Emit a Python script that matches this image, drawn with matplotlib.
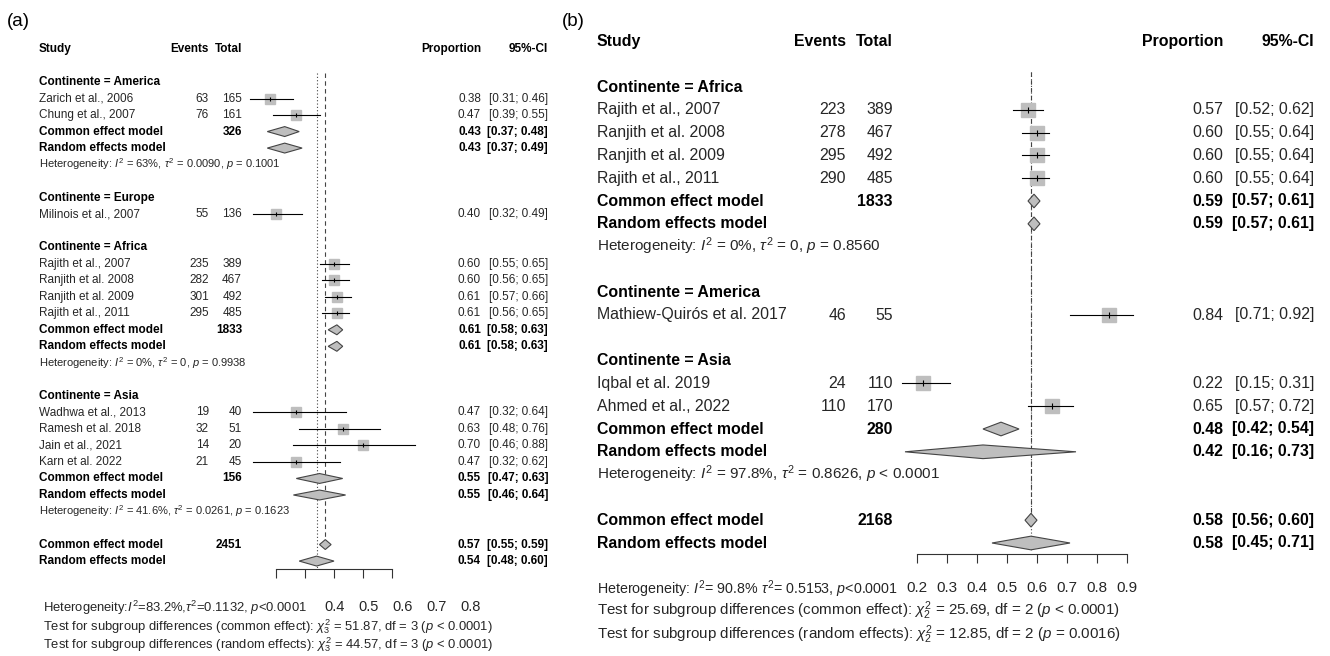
import matplotlib
matplotlib.use('Agg')
import matplotlib.pyplot as plt
from matplotlib import font_manager
from matplotlib.transforms import blended_transform_factory

W, H = 1330, 656

# ---------------- panel (a) data ----------------
a_groups = ['America', 'Europe', 'Africa', 'Asia']
a_study = ['Zarich et al., 2006', 'Chung et al., 2007',
           'Milinois et al., 2007',
           'Rajith et al., 2007', 'Ranjith et al. 2008', 'Ranjith et al. 2009', 'Rajith et al., 2011',
           'Wadhwa et al., 2013', 'Ramesh et al. 2018', 'Jain et al., 2021', 'Karn et al. 2022']
a_group = ['America', 'America', 'Europe', 'Africa', 'Africa', 'Africa', 'Africa',
           'Asia', 'Asia', 'Asia', 'Asia']
a_events = [63, 76, 55, 235, 282, 301, 295, 19, 32, 14, 21]
a_total = [165, 161, 136, 389, 467, 492, 485, 40, 51, 20, 45]
a_prop = [0.38, 0.47, 0.40, 0.60, 0.60, 0.61, 0.61, 0.47, 0.63, 0.70, 0.47]
a_lower = [0.31, 0.39, 0.32, 0.55, 0.56, 0.57, 0.56, 0.32, 0.48, 0.46, 0.32]
a_upper = [0.46, 0.55, 0.49, 0.65, 0.65, 0.66, 0.65, 0.64, 0.76, 0.88, 0.62]
a_sub = ['America', 'Africa', 'Asia']
a_sub_n = [326, 1833, 156]
a_sub_common = [(0.43, 0.37, 0.48), (0.61, 0.58, 0.63), (0.55, 0.47, 0.63)]
a_sub_random = [(0.43, 0.37, 0.49), (0.61, 0.58, 0.63), (0.55, 0.46, 0.64)]
a_sub_i2 = ['63%', '0%', '41.6%']
a_sub_tau2 = ['0.0090', '0', '0.0261']
a_sub_p = ['= 0.1001', '= 0.9938', '= 0.1623']
a_all_n = 2451
a_all_common = (0.57, 0.55, 0.59)
a_all_random = (0.54, 0.48, 0.60)
a_ticks = [0.4, 0.5, 0.6, 0.7, 0.8]
a_bottom = [r'Heterogeneity:$I^2$=83.2%,$\tau^2$=0.1132, $p$<0.0001',
            r'Test for subgroup differences (common effect): $\chi^2_3$ = 51.87, df = 3 ($p$ < 0.0001)',
            r'Test for subgroup differences (random effects): $\chi^2_3$ = 44.57, df = 3 ($p$ < 0.0001)']

# ---------------- panel (b) data ----------------
b_groups = ['Africa', 'America', 'Asia']
b_study = ['Rajith et al., 2007', 'Ranjith et al. 2008', 'Ranjith et al. 2009', 'Rajith et al., 2011',
           'Mathiew-Quirós et al. 2017',
           'Iqbal et al. 2019', 'Ahmed et al., 2022']
b_group = ['Africa', 'Africa', 'Africa', 'Africa', 'America', 'Asia', 'Asia']
b_events = [223, 278, 295, 290, 46, 24, 110]
b_total = [389, 467, 492, 485, 55, 110, 170]
b_prop = [0.57, 0.60, 0.60, 0.60, 0.84, 0.22, 0.65]
b_lower = [0.52, 0.55, 0.55, 0.55, 0.71, 0.15, 0.57]
b_upper = [0.62, 0.64, 0.64, 0.64, 0.92, 0.31, 0.72]
b_sub = ['Africa', 'Asia']
b_sub_n = [1833, 280]
b_sub_common = [(0.59, 0.57, 0.61), (0.48, 0.42, 0.54)]
b_sub_random = [(0.59, 0.57, 0.61), (0.42, 0.16, 0.73)]
b_sub_i2 = ['0%', '97.8%']
b_sub_tau2 = ['0', '0.8626']
b_sub_p = ['= 0.8560', '< 0.0001']
b_all_n = 2168
b_all_common = (0.58, 0.56, 0.60)
b_all_random = (0.58, 0.45, 0.71)
b_ticks = [0.2, 0.3, 0.4, 0.5, 0.6, 0.7, 0.8, 0.9]
b_bottom = [r'Heterogeneity: $I^2$= 90.8% $\tau^2$= 0.5153, $p$<0.0001',
            r'Test for subgroup differences (common effect): $\chi^2_2$ = 25.69, df = 2 ($p$ < 0.0001)',
            r'Test for subgroup differences (random effects): $\chi^2_2$ = 12.85, df = 2 ($p$ = 0.0016)']


def has_font(name):
    try:
        font_manager.findfont(font_manager.FontProperties(family=name), fallback_to_default=False)
        return True
    except ValueError:
        return False


NARROW = 'Liberation Sans Narrow' if has_font('Liberation Sans Narrow') else 'Liberation Sans'
K = 1.0 if NARROW == 'Liberation Sans Narrow' else 0.86
REG = 'Liberation Sans'

plt.rcParams['mathtext.fontset'] = 'custom'
plt.rcParams['mathtext.rm'] = NARROW
plt.rcParams['mathtext.it'] = NARROW + ':italic'
plt.rcParams['mathtext.bf'] = NARROW + ':bold'

GREY = '#bebebe'
TXT = '#262626'

fig = plt.figure(figsize=(W / 100, H / 100), dpi=100)


def draw_panel(lay, groups, study, group, events, total, prop, lower, upper,
               sub, sub_n, sub_common, sub_random, i2, tau2, p_het,
               all_n, all_common, all_random, ticks):
    y0, dy = lay['y0'], lay['dy']

    def row_of(px):
        return (px - y0) / dy

    x0, x1 = lay['ax_px']
    ax = fig.add_axes([x0 / W, 1 - lay['axis_px'] / H, (x1 - x0) / W,
                       (lay['axis_px'] - lay['top_px']) / H])
    ax.set_xlim(*lay['xlim'])
    ax.set_ylim(row_of(lay['axis_px']), row_of(lay['top_px']))
    ax.patch.set_visible(False)
    for s in ['top', 'left', 'right']:
        ax.spines[s].set_visible(False)
    ax.spines['bottom'].set_bounds(ticks[0], ticks[-1])
    ax.spines['bottom'].set_linewidth(0.8)
    ax.spines['bottom'].set_color('#333333')
    ax.set_yticks([])
    ax.set_xticks(ticks)
    ax.tick_params(axis='x', direction='out', length=6.5, width=0.8, color='#333333')

    tr = blended_transform_factory(fig.transFigure, ax.transData)
    fs, fsh = lay['fs'] * K, lay['fs_het'] * K

    def put(xpx, r, s, ha='left', bold=False, size=None):
        ax.text(xpx / W, r, s, transform=tr, ha=ha, va='center',
                fontsize=size or fs, family=NARROW,
                fontweight='bold' if bold else 'normal',
                color='black' if bold else TXT, clip_on=False)

    def ci_text(r, est, lo, hi, bold):
        put(lay['x_prop'], r, f'{est:.2f}', ha='right', bold=bold)
        put(lay['x_ci'], r, f'[{lo:.2f}; {hi:.2f}]', ha='right', bold=bold)

    def diamond(r, est, lo, hi):
        h = lay['dh']
        ax.fill([lo, est, hi, est], [r, r - h, r, r + h], facecolor=GREY,
                edgecolor='#444444', lw=0.8, zorder=3, clip_on=False)

    # header
    hr = -2
    put(lay['x_study'], hr, 'Study', bold=True)
    put(lay['x_events'], hr, 'Events', ha='right', bold=True)
    put(lay['x_total'], hr, 'Total', ha='right', bold=True)
    put(lay['x_prop'], hr, 'Proportion', ha='right', bold=True)
    put(lay['x_ci'], hr, '95%-CI', ha='right', bold=True)

    r = 0
    for g in groups:
        put(lay['x_study'], r, f'Continente = {g}', bold=True)
        r += 1
        for i in range(len(study)):
            if group[i] != g:
                continue
            put(lay['x_study'], r, study[i])
            put(lay['x_events'], r, str(events[i]), ha='right')
            put(lay['x_total'], r, str(total[i]), ha='right')
            ci_text(r, prop[i], lower[i], upper[i], False)
            ax.plot([prop[i]], [r], marker='s', ms=lay['sq'], color=GREY,
                    mec=GREY, zorder=2, clip_on=False)
            ax.plot([lower[i], upper[i]], [r, r], color='black', lw=0.8,
                    zorder=3, clip_on=False)
            ax.plot([prop[i]], [r], marker='|', ms=lay['tick'], color='black',
                    mew=0.8, zorder=4, clip_on=False)
            r += 1
        if g in sub:
            k = sub.index(g)
            put(lay['x_study'], r, 'Common effect model', bold=True)
            put(lay['x_total'], r, str(sub_n[k]), ha='right', bold=True)
            ci_text(r, *sub_common[k], True)
            diamond(r, *sub_common[k])
            put(lay['x_study'], r + 1, 'Random effects model', bold=True)
            ci_text(r + 1, *sub_random[k], True)
            diamond(r + 1, *sub_random[k])
            het = (r'Heterogeneity: $I^2$ = ' + i2[k] + r', $\tau^2$ = ' + tau2[k]
                   + r', $p$ ' + p_het[k])
            put(lay['x_study'], r + 2, het, size=fsh)
            r += 3
        r += 1

    put(lay['x_study'], r, 'Common effect model', bold=True)
    put(lay['x_total'], r, str(all_n), ha='right', bold=True)
    ci_text(r, *all_common, True)
    diamond(r, *all_common)
    put(lay['x_study'], r + 1, 'Random effects model', bold=True)
    ci_text(r + 1, *all_random, True)
    diamond(r + 1, *all_random)

    top = lay['line_top']
    ax.plot([all_common[0]] * 2, [top, r - 0.15], ls=(0, (4, 3)), color='#444444',
            lw=0.8, zorder=1, clip_on=False)
    ax.plot([all_random[0]] * 2, [top, r + 1.4], ls=(0, (1, 2)), color='#444444',
            lw=0.8, zorder=1, clip_on=False)
    return ax


LAY_A = dict(y0=82, dy=16.52, x_study=39, x_events=209, x_total=242, x_prop=481,
             x_ci=548, ax_px=(218, 421), xlim=(0.2, 0.9), axis_px=569, top_px=30,
             line_top=-0.55, fs=9.8, fs_het=9.3, sq=7.0, tick=3.0, dh=0.3)
LAY_B = dict(y0=87, dy=22.8, x_study=597, x_events=846, x_total=893, x_prop=1223,
             x_ci=1314, ax_px=(887, 1157), xlim=(0.1, 1.0), axis_px=554, top_px=30,
             line_top=-0.66, fs=13.3, fs_het=12.8, sq=10.5, tick=4.5, dh=0.3)

ax_a = draw_panel(LAY_A, a_groups, a_study, a_group, a_events, a_total, a_prop,
                  a_lower, a_upper, a_sub, a_sub_n, a_sub_common, a_sub_random,
                  a_sub_i2, a_sub_tau2, a_sub_p, a_all_n, a_all_common,
                  a_all_random, a_ticks)
ax_a.set_xticklabels([])

ax_b = draw_panel(LAY_B, b_groups, b_study, b_group, b_events, b_total, b_prop,
                  b_lower, b_upper, b_sub, b_sub_n, b_sub_common, b_sub_random,
                  b_sub_i2, b_sub_tau2, b_sub_p, b_all_n, b_all_common,
                  b_all_random, b_ticks)
ax_b.set_xticklabels([f'{t:.1f}' for t in b_ticks], fontsize=11,
                     family=NARROW, color=TXT)
ax_b.tick_params(axis='x', pad=13)

# panel (a): pasted-over tick labels sitting on the heterogeneity line
ax_lbl = fig.add_axes([335 / W, 1 - 600 / H, (471 - 335) / W, 0.001])
ax_lbl.set_xlim(a_ticks[0], a_ticks[-1])
ax_lbl.set_xticks(a_ticks)
ax_lbl.set_xticklabels([f'{t:.1f}' for t in a_ticks], fontsize=10.5, family=REG, color=TXT)
ax_lbl.tick_params(axis='x', length=0, pad=0)
ax_lbl.set_yticks([])
for s in ax_lbl.spines.values():
    s.set_visible(False)
ax_lbl.patch.set_visible(False)

for txt, ypx in zip(a_bottom, [608, 627, 645]):
    fig.text(43 / W, 1 - ypx / H, txt, ha='left', va='center', fontsize=9.4,
             family=REG, color=TXT)
for txt, ypx, fsz in zip(b_bottom, [589, 611, 635], [10.3, 10.9, 10.9]):
    fig.text(597 / W, 1 - ypx / H, txt, ha='left', va='center', fontsize=fsz,
             family=NARROW, color=TXT)

fig.text(7 / W, 1 - 22 / H, '(a)', ha='left', va='center', fontsize=13.5, family=REG)
fig.text(562 / W, 1 - 22 / H, '(b)', ha='left', va='center', fontsize=13.5, family=REG)

fig.savefig('out.png', dpi=100)
